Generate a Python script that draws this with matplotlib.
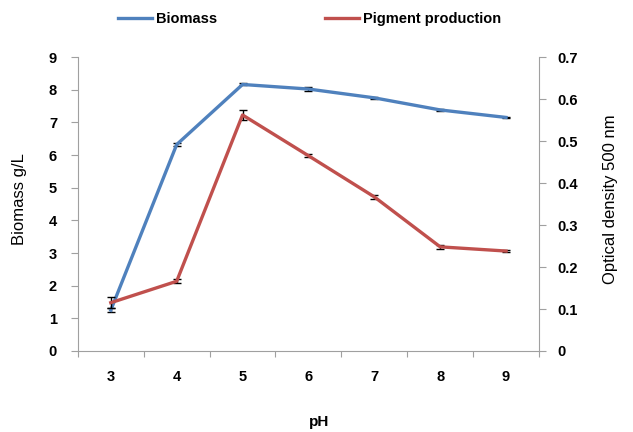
import matplotlib.pyplot as plt

plt.rcParams['font.family'] = ['Liberation Sans', 'DejaVu Sans']

ph = [3, 4, 5, 6, 7, 8, 9]
biomass = [1.25, 6.32, 8.16, 8.02, 7.75, 7.38, 7.15]
biomass_err = [0.06, 0.04, 0.03, 0.05, 0.02, 0.02, 0.02]
pigment = [0.115, 0.166, 0.562, 0.465, 0.367, 0.248, 0.238]
pigment_err = [0.013, 0.005, 0.013, 0.003, 0.004, 0.005, 0.002]

blue = "#4F81BD"
red = "#C0504D"
grey = "#A0A0A0"

fig = plt.figure(figsize=(6.33, 4.32), dpi=100)
ax = fig.add_axes([0.123, 0.1875, 0.7285, 0.6805])
ax2 = ax.twinx()

x = list(range(len(ph)))
l1 = ax.errorbar(x, biomass, yerr=biomass_err, color=blue, lw=2.4,
                 ecolor="black", elinewidth=1, capsize=3, capthick=1, zorder=3)
l2 = ax2.errorbar(x, pigment, yerr=pigment_err, color=red, lw=2.4,
                  ecolor="black", elinewidth=1, capsize=3, capthick=1, zorder=3)

ax.set_xlim(-0.5, len(ph) - 0.5)
ax.set_ylim(0, 9)
ax2.set_ylim(0, 0.7)
ax.set_yticks(range(0, 10))
ax2.set_yticks([i / 10 for i in range(8)])
ax2.set_yticklabels(["0"] + [f"{i / 10:.1f}" for i in range(1, 8)])

ax.set_xticks([i + 0.5 for i in range(-1, len(ph))])
ax.set_xticklabels([])
ax.set_xticks(x, minor=True)
ax.set_xticklabels([str(p) for p in ph], minor=True)
ax.tick_params(axis="x", which="minor", length=0, pad=14)
ax.tick_params(axis="x", which="major", length=4, color=grey)

for a in (ax, ax2):
    a.spines["top"].set_visible(False)
    for s in ("left", "right", "bottom"):
        a.spines[s].set_color(grey)
    a.tick_params(axis="y", length=5, color=grey, labelsize=10.5)
ax2.spines["left"].set_visible(False)
ax2.spines["bottom"].set_visible(False)
ax.spines["right"].set_visible(False)

for lab in ax.get_yticklabels() + ax2.get_yticklabels() + ax.get_xticklabels(minor=True):
    lab.set_fontweight("bold")
    lab.set_fontsize(10.5)
ax.tick_params(axis="y", pad=10)
ax2.tick_params(axis="y", pad=8)

ax.set_ylabel("Biomass g/L", fontsize=12)
ax2.set_ylabel("Optical density 500 nm", fontsize=12)
ax.yaxis.set_label_coords(-0.11, 0.517)
ax2.yaxis.set_label_coords(1.139, 0.517)
ax.set_xlabel("pH", fontsize=11, fontweight="bold")
ax.xaxis.set_label_coords(0.523, -0.218)

fig.legend([l1.lines[0], l2.lines[0]], ["Biomass", "Pigment production"],
           loc="center", bbox_to_anchor=(0.489, 1 - 19 / 432), ncol=2,
           frameon=False, handlelength=2.33, handletextpad=0.3,
           columnspacing=7.4, prop={"weight": "bold", "size": 10.5})

fig.savefig("out.png", dpi=100)
